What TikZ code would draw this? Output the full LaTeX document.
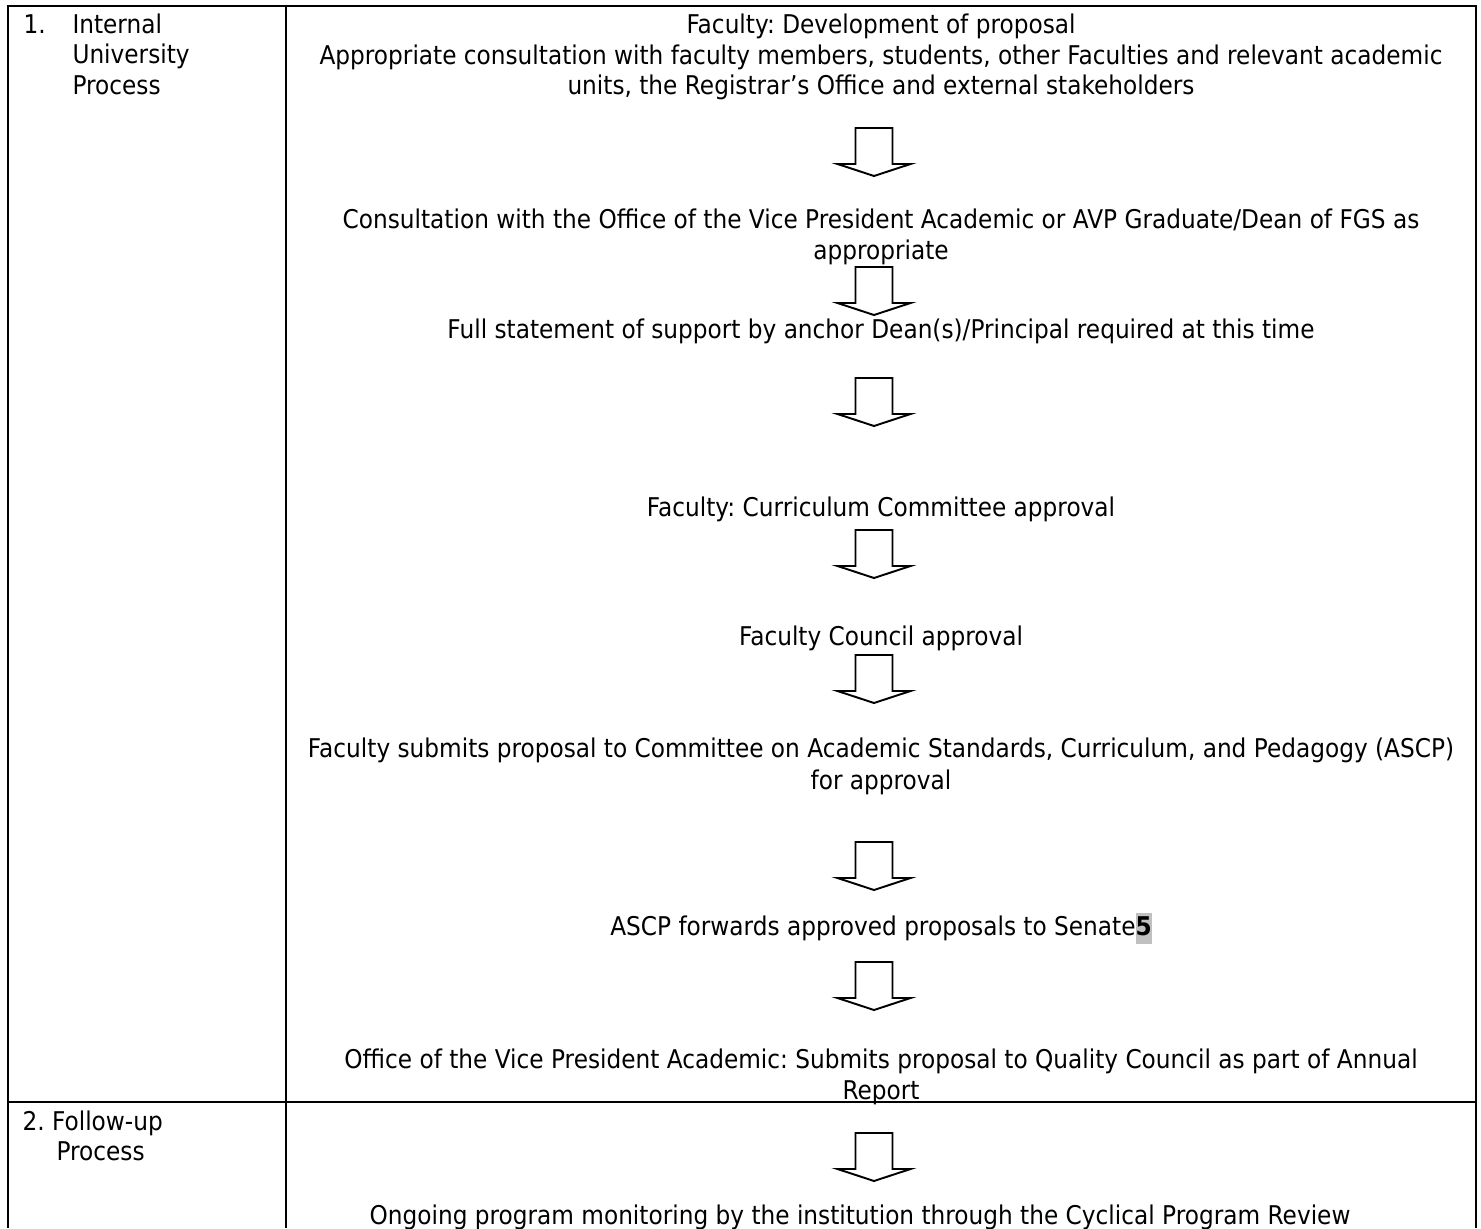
\documentclass[tikz,border=0pt]{standalone}
\usepackage{fontspec}
\setmainfont{DejaVu Sans}[FakeStretch=0.90]
\frenchspacing
\definecolor{notegray}{HTML}{C0C0C0}
\newcommand{\notemark}[1]{{\setlength{\fboxsep}{0pt}\colorbox{notegray}{\strut\textbf{#1}}}}

\begin{document}
\begin{tikzpicture}[x=0.3875pt,y=-0.3875pt,
    every node/.style={inner sep=0pt, font=\fontsize{10}{12}\selectfont},
    steptext/.style={anchor=base},
    rowlabel/.style={anchor=base west},
    tableline/.style={line width=0.8pt},
    blockarrow/.pic={
      \draw[line width=0.75pt] (-18.5,0) -- (18.5,0) -- (18.5,36) -- (36.5,36)
        -- (0,48) -- (-36.5,36) -- (-18.5,36) -- cycle;
    }]
  \useasboundingbox[fill=white] (0,0) rectangle (1481,1228);

  % table frame
  \draw[tableline] (8,1228) -- (8,6) -- (1476,6) -- (1476,1228);
  \draw[tableline] (286,6) -- (286,1228);
  \draw[tableline] (8,1102) -- (1476,1102);

  % row labels
  \node[rowlabel] (num1) at (23,33) {1.};
  \node[rowlabel] (lab1a) at (72,33) {Internal};
  \node[rowlabel] (lab1b) at (72,63.5) {University};
  \node[rowlabel] (lab1c) at (72,94) {Process};
  \node[rowlabel] (lab2a) at (22,1130) {2. Follow-up};
  \node[rowlabel] (lab2b) at (56,1160) {Process};

  % steps of the internal process
  \node[steptext] (dev) at (881,33) {Faculty: Development of proposal};
  \node[steptext] (cons1) at (881,64) {Appropriate consultation with faculty members, students, other Faculties and relevant academic};
  \node[steptext] (cons2) at (881,94) {units, the Registrar’s Office and external stakeholders};
  \pic (a1) at (874,128) {blockarrow};
  \node[steptext] (vpa1) at (881,228) {Consultation with the Office of the Vice President Academic or AVP Graduate/Dean of FGS as};
  \node[steptext] (vpa2) at (881,259) {appropriate};
  \pic (a2) at (874,267) {blockarrow};
  \node[steptext] (dean) at (881,338) {Full statement of support by anchor Dean(s)/Principal required at this time};
  \pic (a3) at (874,378) {blockarrow};
  \node[steptext] (cc) at (881,516) {Faculty: Curriculum Committee approval};
  \pic (a4) at (874,530) {blockarrow};
  \node[steptext] (fc) at (881,645) {Faculty Council approval};
  \pic (a5) at (874,655) {blockarrow};
  \node[steptext] (ascp1) at (881,757) {Faculty submits proposal to Committee on Academic Standards, Curriculum, and Pedagogy (ASCP)};
  \node[steptext] (ascp2) at (881,789) {for approval};
  \pic (a6) at (874,842) {blockarrow};
  \node[steptext] (senate) at (881,935) {ASCP forwards approved proposals to Senate\notemark{5}};
  \pic (a7) at (874,962) {blockarrow};
  \node[steptext] (qc1) at (881,1068) {Office of the Vice President Academic: Submits proposal to Quality Council as part of Annual};
  \node[steptext] (qc2) at (881,1099) {Report};

  % follow-up
  \pic (a8) at (874,1133) {blockarrow};
  \node[steptext] (mon) at (860,1224) {Ongoing program monitoring by the institution through the Cyclical Program Review};
\end{tikzpicture}
\end{document}
